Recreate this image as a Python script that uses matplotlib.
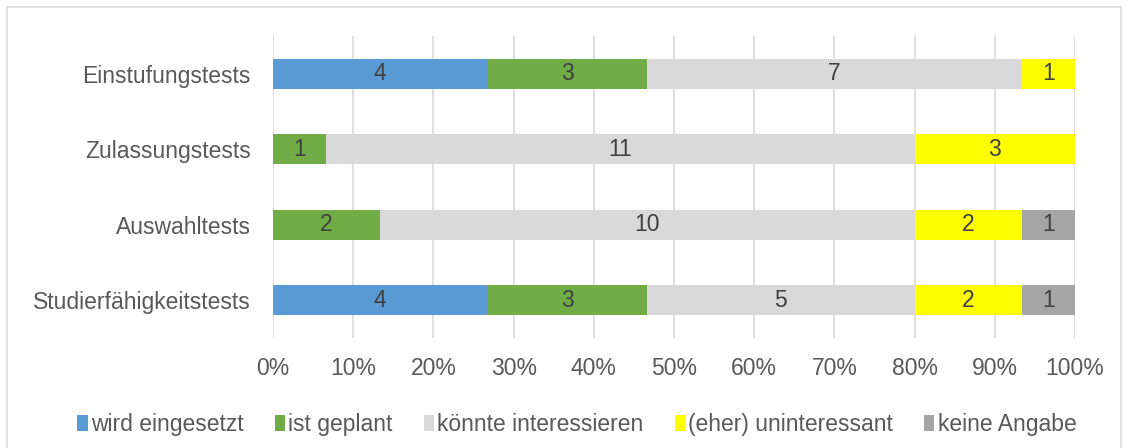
import numpy as np
import matplotlib.pyplot as plt
from matplotlib.patches import Rectangle

plt.rcParams['font.family'] = ['Liberation Sans', 'DejaVu Sans']

kategorien = ['Einstufungstests', 'Zulassungstests', 'Auswahltests', 'Studierfähigkeitstests']
serien = ['wird eingesetzt', 'ist geplant', 'könnte interessieren', '(eher) uninteressant', 'keine Angabe']
werte = {
    'wird eingesetzt': [4, 0, 0, 4],
    'ist geplant': [3, 1, 2, 3],
    'könnte interessieren': [7, 11, 10, 5],
    '(eher) uninteressant': [1, 3, 2, 2],
    'keine Angabe': [0, 0, 1, 1],
}
farben = ['#5B9BD5', '#70AD47', '#D9D9D9', '#FFFF00', '#A5A5A5']

fs = 16.5
fig = plt.figure(figsize=(11.29, 4.48), dpi=100)
ax = fig.add_axes([0.2418, 0.2455, 0.7104, 0.6745])

# Rahmen um das Diagramm
fig.patches.append(Rectangle((0.006, -0.01), 0.987, 0.995, transform=fig.transFigure,
                             fill=False, edgecolor='#D9D9D9', linewidth=1.2))

summe = np.sum([werte[s] for s in serien], axis=0)
y = np.arange(len(kategorien))
links = np.zeros(len(kategorien))
for s, c in zip(serien, farben):
    v = np.array(werte[s], dtype=float)
    anteil = v / summe
    ax.barh(y, anteil, left=links, height=0.4, color=c, label=s, zorder=2)
    for i in range(len(kategorien)):
        if v[i] > 0:
            ax.text(links[i] + anteil[i] / 2, y[i], str(int(v[i])), ha='center', va='center',
                    fontsize=fs, color='#404040', zorder=3)
    links += anteil

ax.set_xlim(0, 1)
ax.set_ylim(3.5, -0.5)
ax.set_yticks(y)
ax.set_yticklabels(kategorien, fontsize=fs, color='#595959')
ax.set_xticks(np.linspace(0, 1, 11))
ax.set_xticklabels([f'{int(p)}%' for p in np.linspace(0, 100, 11)], fontsize=fs, color='#595959')
ax.tick_params(length=0)
ax.tick_params(axis='y', pad=16)
ax.tick_params(axis='x', pad=14)
ax.grid(axis='x', color='#D9D9D9', linewidth=1.2, zorder=0)
for sp in ax.spines.values():
    sp.set_visible(False)

ax.legend(loc='center', bbox_to_anchor=(0.511, 0.053),
          bbox_transform=fig.transFigure, ncol=5, frameon=False, fontsize=fs,
          handlelength=0.45, handleheight=0.7, handletextpad=0.15, columnspacing=1.35,
          labelcolor='#595959')

fig.savefig('out.png', dpi=100)
